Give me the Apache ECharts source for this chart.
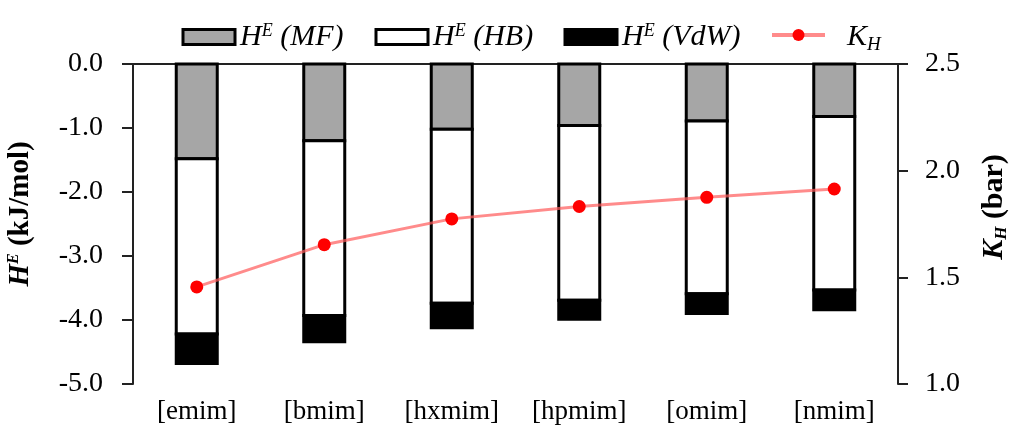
<!DOCTYPE html>
<html>
<head>
<meta charset="utf-8">
<script src="https://cdn.jsdelivr.net/npm/echarts@6/dist/echarts.min.js"></script>
<style>html,body{margin:0;padding:0;background:#fff}#c{width:1011px;height:426px}</style>
</head>
<body>
<div id="c"></div>
<script>
var categories = ['[emim]', '[bmim]', '[hxmim]', '[hpmim]', '[omim]', '[nmim]'];
var heMF = [-1.48, -1.20, -1.02, -0.96, -0.89, -0.82];
var heHB = [-2.74, -2.73, -2.72, -2.73, -2.70, -2.71];
var heVdW = [-0.46, -0.41, -0.38, -0.30, -0.31, -0.31];
var kH = [1.455, 1.653, 1.774, 1.832, 1.875, 1.914];
var leftTicks = { min: -5, max: 0, interval: 1 };
var rightTicks = { min: 1, max: 2.5, interval: 0.5 };

var FONT = 'Liberation Serif';
var chart = echarts.init(document.getElementById('c'));

// stacked segments [categoryIndex, start, end] built from the arrays
function segments(vals, prevs) {
  return vals.map(function (v, i) {
    var s = 0;
    prevs.forEach(function (p) { s += p[i]; });
    return [i, s, s + v];
  });
}
var segMF = segments(heMF, []);
var segHB = segments(heHB, [heMF]);
var segVdW = segments(heVdW, [heMF, heHB]);

function barRender(fill) {
  return function (params, api) {
    var i = api.value(0);
    var p0 = api.coord([i, api.value(1)]);
    var p1 = api.coord([i, api.value(2)]);
    var w = 41;
    return {
      type: 'rect',
      shape: { x: p0[0] - w / 2, y: Math.min(p0[1], p1[1]), width: w, height: Math.abs(p1[1] - p0[1]) },
      style: { fill: fill, stroke: '#000', lineWidth: 3 }
    };
  };
}

var legRich = {
  i: { fontFamily: FONT, fontStyle: 'italic', fontSize: 30, color: '#000' },
  s: { fontFamily: FONT, fontStyle: 'italic', fontSize: 18, color: '#000', verticalAlign: 'top', padding: [0, 0, 12, 0] },
  b: { fontFamily: FONT, fontStyle: 'italic', fontSize: 19, color: '#000', padding: [16, 0, 0, 0] }
};
function mkLegend(item, left, fmt, w, extra) {
  var o = {
    data: [item], left: left, top: 22, itemWidth: w, itemHeight: 15, padding: 0,
    formatter: function () { return fmt; },
    textStyle: { fontFamily: FONT, fontSize: 30, color: '#000', rich: legRich }
  };
  if (extra) Object.assign(o.textStyle, extra);
  return o;
}
var axisLineStyle = { color: '#222', width: 2 };
chart.setOption({
  animation: false,
  backgroundColor: '#fff',
  legend: [
    mkLegend({ name: 'MF', icon: 'rect', itemStyle: { color: '#a6a6a6', borderColor: '#000', borderWidth: 3 } }, 181.5, '{i|H}{s|E}{i| (MF)}', 52),
    mkLegend({ name: 'HB', icon: 'rect', itemStyle: { color: '#fff', borderColor: '#000', borderWidth: 3 } }, 374.5, '{i|H}{s|E}{i| (HB)}', 52),
    mkLegend({ name: 'VdW', icon: 'rect', itemStyle: { color: '#000', borderColor: '#000', borderWidth: 3 } }, 563.5, '{i|H}{s|E}{i| (VdW)}', 52),
    mkLegend({ name: 'KH', lineStyle: { width: 4, color: 'rgba(255,90,90,0.7)' } }, 770, '{i|K}{b|H}', 53, { padding: [4, 0, 0, 17] })
  ],
  grid: { left: 133, right: 113, top: 64, bottom: 42, containLabel: false, outerBoundsMode: 'none' },
  xAxis: [
    { type: 'category', data: categories, position: 'bottom',
      axisLine: { show: false }, axisTick: { show: false },
      axisLabel: { fontFamily: FONT, fontSize: 27, color: '#000', margin: 14 } },
    { type: 'category', data: categories, position: 'top',
      axisLine: { show: true, onZero: false, lineStyle: axisLineStyle }, axisTick: { show: false },
      axisLabel: { show: false } }
  ],
  yAxis: [
    { type: 'value', min: leftTicks.min, max: leftTicks.max, interval: leftTicks.interval, position: 'left',
      axisLine: { show: true, lineStyle: axisLineStyle },
      axisTick: { show: true, length: 11, lineStyle: axisLineStyle },
      splitLine: { show: false },
      axisLabel: { fontFamily: FONT, fontSize: 28, color: '#000', margin: 30, formatter: function (v) { return v.toFixed(1); } },
      name: '{bi|H}{bs|E}{bn| (kJ/mol)}', nameLocation: 'middle', nameGap: 98, nameRotate: 90,
      nameTextStyle: { padding: [0, 0, 0, 20], rich: {
        bi: { fontFamily: FONT, fontWeight: 'bold', fontStyle: 'italic', fontSize: 29, color: '#000' },
        bs: { fontFamily: FONT, fontWeight: 'bold', fontStyle: 'italic', fontSize: 16, color: '#000', verticalAlign: 'top', padding: [0, 0, 12, 0] },
        bn: { fontFamily: FONT, fontWeight: 'bold', fontSize: 29, color: '#000' }
      } } },
    { type: 'value', min: rightTicks.min, max: rightTicks.max, interval: rightTicks.interval, position: 'right',
      axisLine: { show: true, lineStyle: axisLineStyle },
      axisTick: { show: true, length: 10, lineStyle: axisLineStyle },
      splitLine: { show: false },
      axisLabel: { fontFamily: FONT, fontSize: 28, color: '#000', margin: 27, formatter: function (v) { return v.toFixed(1); } },
      name: '{bi|K}{bb|H}{bn| (bar)}', nameLocation: 'middle', nameGap: 81, nameRotate: 90,
      nameTextStyle: { padding: [0, 0, 0, 34], rich: {
        bi: { fontFamily: FONT, fontWeight: 'bold', fontStyle: 'italic', fontSize: 30, color: '#000' },
        bb: { fontFamily: FONT, fontWeight: 'bold', fontStyle: 'italic', fontSize: 17, color: '#000', padding: [14, 0, 0, 0] },
        bn: { fontFamily: FONT, fontWeight: 'bold', fontSize: 30, color: '#000' }
      } } }
  ],
  series: [
    { name: 'MF', type: 'custom', data: segMF, renderItem: barRender('#a6a6a6'),
      encode: { x: 0, y: [1, 2] }, itemStyle: { color: '#a6a6a6' } },
    { name: 'HB', type: 'custom', data: segHB, renderItem: barRender('#fff'),
      encode: { x: 0, y: [1, 2] }, itemStyle: { color: '#fff' } },
    { name: 'VdW', type: 'custom', data: segVdW, renderItem: barRender('#000'),
      encode: { x: 0, y: [1, 2] }, itemStyle: { color: '#000' } },
    { name: 'KH', type: 'line', yAxisIndex: 1, data: kH, symbol: 'circle', symbolSize: 13,
      lineStyle: { color: 'rgba(255,90,90,0.7)', width: 3 },
      itemStyle: { color: '#ff0000' }, z: 5 }
  ]
});
</script>
</body>
</html>
